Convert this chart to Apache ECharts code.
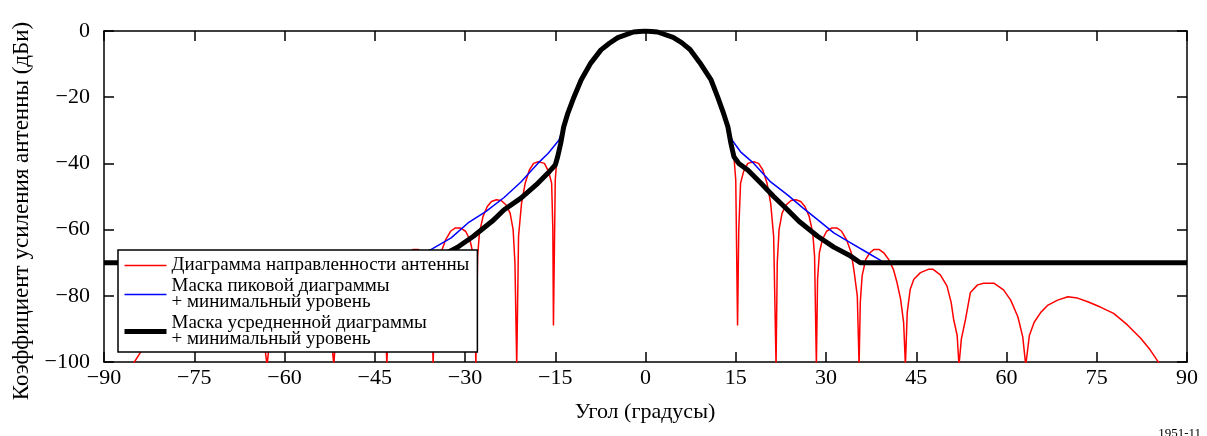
<!DOCTYPE html>
<html>
<head>
<meta charset="utf-8">
<script src="https://cdn.jsdelivr.net/npm/echarts@6/dist/echarts.min.js"></script>
<style>
  html, body { margin: 0; padding: 0; background: #fff; }
  #chart { width: 1207px; height: 436px; }
</style>
</head>
<body>
<div id="chart"></div>
<script>
// angles in degrees, gains in dBi
var redAngle = [-86, -85.3, -83.7, -82, -79.8, -77.5, -75.3, -73.2, -71.5, -69.9, -68.2, -66.6, -65.4, -64.3, -63.5, -62.9,
  -62.4, -61.6, -60.4, -59.2, -57.6, -55.9, -54.9, -53.7, -52.9, -52.2, -51.8,
  -51.5, -50.9, -50.5, -49.8, -48.7, -47.5, -46.7, -45.4, -44.3, -43.7, -43.2, -43,
  -42.7, -42.2, -41.6, -41, -40.2, -39.4, -38.6, -37.8, -37.1, -36.4, -35.8, -35.5, -35.3,
  -35, -34.5, -34, -33.2, -32.4, -31.6, -30.8, -29.9, -29.2, -28.7, -28.4, -28.2,
  -27.9, -27.6, -27, -26.3, -25.6, -24.8, -24, -23.2, -22.5, -22, -21.7, -21.4,
  -21.1, -20.6, -20, -19.3, -18.6, -17.8, -16.8, -16.1, -15.6, -15.4, -15.3,
  -15, -14.7, -14.2, -13.6, -12.9, -11.9, -10.7, -9.1, -7.4, -6, -4.6, -2, 0,
  2, 4.6, 6, 7.4, 9, 10.9, 12, 12.9, 13.7, 14.2, 14.7, 15, 15.3,
  15.5, 15.8, 16.3, 17, 18, 18.8, 19.5, 20.2, 20.8, 21.3, 21.7,
  21.9, 22.2, 22.7, 23.4, 24.2, 25, 25.8, 26.5, 27.2, 27.8, 28.1, 28.4,
  28.6, 28.9, 29.4, 30.1, 31, 31.8, 32.6, 33.4, 34.2, 34.7, 35.2, 35.5,
  35.7, 36, 36.6, 37.3, 38, 38.8, 39.6, 40.4, 41.2, 41.8, 42.4, 42.9, 43.2,
  43.5, 44, 44.6, 45.7, 47, 47.8, 49, 50.1, 50.8, 51.2, 51.8, 52.1,
  52.5, 53.2, 54, 55.2, 56.2, 57.9, 59.5, 60.7, 61.9, 62.7, 63.2,
  63.8, 64.6, 65.7, 66.9, 68.5, 70.2, 71.8, 73.5, 75.6, 77.8, 80.1, 82.3, 83.9, 85.6];
var redGain = [-104, -101, -96.4, -92.8, -88.8, -85.3, -83.4, -81.8, -80.7, -80.3, -81.3, -82.8, -85, -88, -92, -101,
  -92.4, -86.4, -81.3, -78.2, -76.2, -76.2, -76.7, -79, -87, -93, -101,
  -92, -87, -82, -77, -73.7, -72, -72, -73, -75, -78, -85, -101,
  -88, -81, -76, -72, -69, -67, -66, -66, -67, -69, -74, -82, -101,
  -80, -73, -67, -63, -60.5, -59.5, -59.5, -60.5, -63, -67, -75, -101,
  -68, -61, -56, -53, -51.5, -51, -51.2, -52.5, -55, -60, -70, -101,
  -62, -52, -46, -42, -40, -39.5, -40, -42.5, -46, -60, -89,
  -45, -38, -34, -29, -24.8, -20, -14.8, -9.7, -5.7, -3.7, -2, -0.3, 0,
  -0.3, -1.9, -3.5, -5.6, -9.5, -14.8, -20, -24.5, -29, -34, -38, -45, -89,
  -60, -46, -42.5, -40, -39.5, -40, -42, -46, -52, -62, -101,
  -70, -60, -55, -52.5, -51.2, -51, -51.5, -53, -56, -61, -68, -101,
  -75, -67, -63, -60.5, -59.5, -59.5, -60.5, -63, -67, -73, -80, -101,
  -82, -74, -69, -67, -66, -66, -67, -69, -72, -76, -81, -88, -101,
  -85, -78, -75, -73, -72, -72, -73.7, -77, -82, -87, -92, -101,
  -93, -87, -79, -76.7, -76.2, -76.2, -78.2, -81.3, -86.4, -92.4, -101,
  -92, -88, -85, -82.8, -81.3, -80.3, -80.7, -81.8, -83.4, -85.3, -88.8, -92.8, -96.4, -101];

var blueAngle = [-90, -39.5, -39, -36.9, -35.6, -32.3, -29.5, -26.5, -23.5, -20.7, -17.9, -16.2, -14.4,
  -13.6, -12.9, -11.9, -10.7, -9.1, -7.4, -6, -4.6, -2, 0, 2, 4.6, 6, 7.4, 9, 10.9, 12, 12.9, 13.7,
  14.4, 15.8, 18, 20.8, 23.6, 26.2, 28.6, 31.3, 34.1, 36.9, 39, 39.5, 90];
var blueGain = [-70, -70, -69.2, -67, -66, -62.5, -58, -54.5, -50.3, -45.6, -40, -37, -33,
  -29, -24.8, -20, -14.8, -9.7, -5.7, -3.7, -2, -0.3, 0, -0.3, -1.9, -3.5, -5.6, -9.5, -14.8, -20, -24.5, -29,
  -33, -36.5, -40, -45.6, -49.5, -53.5, -57, -61, -64, -67, -69.2, -70, -70];

var blackAngle = [-90, -35.7, -34, -31.3, -28.6, -25.5, -23.5, -20.7, -17.9, -16, -15, -14.6, -14.1,
  -13.6, -12.9, -11.9, -10.7, -9.1, -7.4, -6, -4.6, -2, 0, 2, 4.6, 6, 7.4, 9, 10.9, 12, 12.9, 13.7,
  14.2, 14.7, 15.5, 17, 19.2, 21.3, 23.6, 25.5, 28.6, 31.3, 34.1, 35.7, 90];
var blackGain = [-70, -70, -68, -65.4, -62, -57.5, -54, -50.5, -46, -42.5, -40.5, -38, -34,
  -29, -24.8, -20, -14.8, -9.7, -5.7, -3.7, -2, -0.3, 0, -0.3, -1.9, -3.5, -5.6, -9.5, -14.8, -20, -24.5, -29,
  -34, -38, -40, -42, -46, -50, -54, -57.5, -62, -65.3, -68, -70, -70];

var seriesNames = ['Диаграмма направленности антенны',
  'Маска пиковой диаграммы\n+ минимальный уровень',
  'Маска усредненной диаграммы\n+ минимальный уровень'];
var seriesColors = ['#ff0000', '#0000ff', '#000000'];
var seriesWidths = [1.5, 1.5, 5];
var xRange = [-90, 90, 15];
var yRange = [-100, 0, 20];

var font = 'Liberation Serif';

function pairs(xs, ys) {
  var out = [];
  for (var i = 0; i < xs.length; i++) {
    out.push([xs[i], ys[i]]);
  }
  return out;
}

function minusLabel(v) {
  return v < 0 ? '\u2212' + Math.abs(v) : String(v);
}

function axisX(pos, showLabel) {
  return {
    type: 'value',
    position: pos,
    min: xRange[0], max: xRange[1], interval: xRange[2],
    axisLine: { show: true, onZero: false, lineStyle: { color: '#000', width: 1.5 } },
    axisTick: { show: true, inside: true, length: 10, lineStyle: { color: '#000', width: 1.5 } },
    axisLabel: { show: showLabel, formatter: minusLabel, color: '#000', fontFamily: font, fontSize: 22, margin: 5 },
    splitLine: { show: false }
  };
}

function axisY(pos, showLabel) {
  return {
    type: 'value',
    position: pos,
    min: yRange[0], max: yRange[1], interval: yRange[2],
    axisLine: { show: true, onZero: false, lineStyle: { color: '#000', width: 1.5 } },
    axisTick: { show: true, inside: true, length: 10, lineStyle: { color: '#000', width: 1.5 } },
    axisLabel: { show: showLabel, formatter: minusLabel, color: '#000', fontFamily: font, fontSize: 22, margin: 14 },
    splitLine: { show: false }
  };
}

function makeSeries(i, xs, ys) {
  return {
    name: seriesNames[i], type: 'line', data: pairs(xs, ys),
    showSymbol: false, symbol: 'none', clip: true, z: 2,
    lineStyle: { color: seriesColors[i], width: seriesWidths[i] },
    itemStyle: { color: seriesColors[i] }
  };
}

var legendData = seriesNames.map(function (n, i) {
  return { name: n, lineStyle: { width: seriesWidths[i], color: seriesColors[i] } };
});

var chart = echarts.init(document.getElementById('chart'), null, { renderer: 'canvas' });

var option = {
  animation: false,
  backgroundColor: '#fff',
  grid: { left: 104, right: 20, top: 31, bottom: 74 },
  xAxis: [axisX('bottom', true), axisX('top', false)],
  yAxis: [axisY('left', true), axisY('right', false)],
  legend: {
    orient: 'vertical',
    left: 118,
    top: 250,
    z: 10,
    backgroundColor: '#fff',
    borderColor: '#000',
    borderWidth: 1.5,
    borderRadius: 0,
    padding: [6, 8, 3, 4],
    itemGap: 2,
    itemWidth: 42,
    itemHeight: 14,
    itemStyle: { opacity: 0 },
    textStyle: { fontFamily: font, fontSize: 19, color: '#000', lineHeight: 16 },
    data: legendData
  },
  series: [
    makeSeries(0, redAngle, redGain),
    makeSeries(1, blueAngle, blueGain),
    makeSeries(2, blackAngle, blackGain)
  ],
  graphic: [
    {
      type: 'text', x: 22, y: 211, rotation: Math.PI / 2,
      style: { text: 'Коэффициент усиления антенны (дБи)', fill: '#000', font: '23px "Liberation Serif"', align: 'center', verticalAlign: 'middle' }
    },
    {
      type: 'text', x: 645, y: 412,
      style: { text: 'Угол (градусы)', fill: '#000', font: '22px "Liberation Serif"', align: 'center', verticalAlign: 'middle' }
    },
    {
      type: 'text', right: 6, top: 427,
      style: { text: '1951-11', fill: '#000', font: '13px "Liberation Serif"' }
    }
  ]
};

chart.setOption(option);
</script>
</body>
</html>
